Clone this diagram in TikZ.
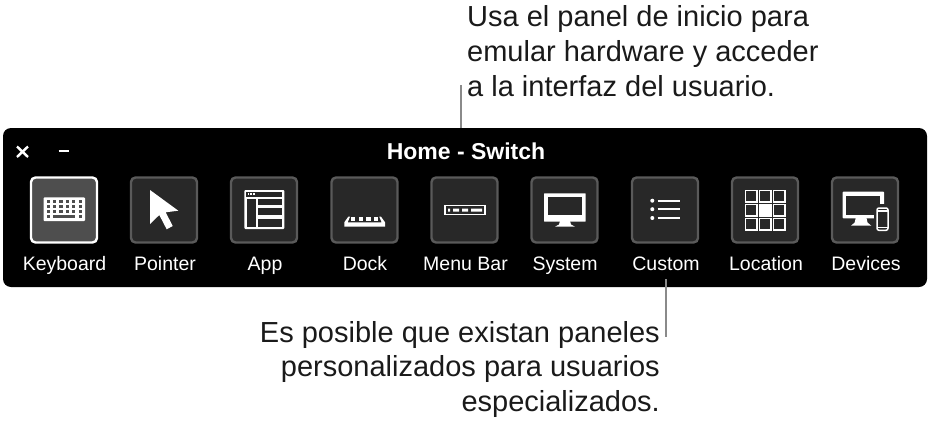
\documentclass[tikz,border=0pt]{standalone}
\usepackage{fontspec}
\setmainfont{Liberation Sans}
\definecolor{btnfill}{HTML}{282828}
\definecolor{btnedge}{HTML}{5A5A5A}
\definecolor{selfill}{HTML}{4E4E4E}
\definecolor{leader}{HTML}{8A8A8A}
\definecolor{ink}{HTML}{1A1A1A}
\tikzset{
  x=1pt,y=-1pt,
  panel/.style={fill=black,rounded corners=8pt,draw=none},
  iconbtn/.style={draw=btnedge,line width=2.4pt,fill=btnfill,rounded corners=4.5pt,minimum width=66pt,minimum height=65pt,inner sep=0pt},
  selbtn/.style={iconbtn,draw=white,fill=selfill},
  btnlabel/.style={text=white,font=\fontsize{19.5}{22}\selectfont,anchor=base,inner sep=0pt},
  callout/.style={text=ink,font=\fontsize{29}{37.5}\selectfont,inner sep=0pt,align=left},
  leaderline/.style={draw=leader,line width=2pt},
}
\begin{document}
\begin{tikzpicture}
\useasboundingbox (0,0) rectangle (931,423);
\fill[white] (0,0) rectangle (931,423);
\fill[panel] (3,128) rectangle (927,287);
\coordinate (topA) at (461,85);
\coordinate (topB) at (461,128);
\coordinate (botA) at (666,279);
\coordinate (botB) at (666,337);
\draw[leaderline] (topA) -- (topB);
\draw[leaderline] (botA) -- (botB);
% window controls
\draw[white,line width=2.4pt] (17,146.5) -- (28,157) (28,146.5) -- (17,157);
\draw[white,line width=2.2pt] (58.5,151) -- (69,151);
\node[text=white,font=\fontsize{23}{26}\selectfont\bfseries,anchor=base,inner sep=0pt] (title) at (466,159.5) {Home - Switch};
% buttons
\node[selbtn] (b1) at (64,210) {};
\node[iconbtn] (b2) at (164,210) {};
\node[iconbtn] (b3) at (264,210) {};
\node[iconbtn] (b4) at (364.5,210) {};
\node[iconbtn] (b5) at (464.5,210) {};
\node[iconbtn] (b6) at (564.5,210) {};
\node[iconbtn] (b7) at (665,210) {};
\node[iconbtn] (b8) at (765,210) {};
\node[iconbtn] (b9) at (865,210) {};
% labels
\node[btnlabel] (l1) at (64.5,270.5) {Keyboard};
\node[btnlabel] (l2) at (165,270.5) {Pointer};
\node[btnlabel] (l3) at (265,270.5) {App};
\node[btnlabel] (l4) at (365,270.5) {Dock};
\node[btnlabel] (l5) at (465.5,270.5) {Menu Bar};
\node[btnlabel] (l6) at (565,270.5) {System};
\node[btnlabel] (l7) at (666,270.5) {Custom};
\node[btnlabel] (l8) at (766,270.5) {Location};
\node[btnlabel] (l9) at (866,270.5) {Devices};
% keyboard icon
\fill[white,rounded corners=1pt] (43.5,197.3) rectangle (85,221);
\foreach \r in {0,1,2}{\foreach \c in {0,...,5}{
  \fill[selfill] ({46.5+\c*6.4},{200.3+\r*4.9}) rectangle ++(3.3,3);}}
\fill[selfill] (46.5,215) rectangle ++(3.3,2.6);
\fill[selfill] (78.5,215) rectangle ++(3.3,2.6);
\fill[selfill] (53.3,215.2) rectangle (74.7,217.6);
% pointer icon
\fill[white] (150,190) -- (178.3,210.7) -- (165.7,212.3) -- (172.7,226) -- (166.7,229.3) -- (159.3,215) -- (150,224) -- cycle;
% app icon
\fill[white,rounded corners=1pt] (244.3,190) rectangle (284.3,229);
\fill[btnfill] (246.3,192.3) rectangle (282.3,196.5);
\foreach \d in {0,1,2}{\fill[white] ({247.5+\d*2.9},193.4) rectangle ++(1.8,1.8);}
\fill[btnfill] (247,199) rectangle (255.5,226.5);
\fill[btnfill] (258.3,199) rectangle (281.7,205);
\fill[btnfill] (258.3,208.3) rectangle (281.7,215);
\fill[btnfill] (258.3,219) rectangle (281.7,226.5);
% dock icon
\fill[white] (344.3,226.7) -- (385,226.7) -- (385,222.3) -- (381,216.7) -- (379.3,216.7) -- (381.6,222.3) -- (347.7,222.3) -- (350,216.7) -- (348.3,216.7) -- (344.3,222.3) -- cycle;
\foreach \d in {0,1,2,3}{\fill[white] ({350.9+\d*7.75},216.7) rectangle ++(4.3,4.3);}
% menu bar icon
\draw[white,line width=1.5pt] (445,205.5) rectangle (485,214.5);
\fill[white] (448,208.5) rectangle (450,211.5)
 (453,208.5) rectangle (459,211.5) (462,208.5) rectangle (468,211.5) (471,208.5) rectangle (482,211.5);
% system icon
\fill[white,rounded corners=.6pt] (544,193.3) rectangle (585.7,221.7);
\fill[btnfill] (547.7,197) rectangle (582.3,215.3);
\fill[white] (560,221) -- (570,221) -- (571,224.5) -- (575,226.7) -- (555,226.7) -- (559,224.5) -- cycle;
% custom icon
\foreach \y in {200.7,209.2,218}{
  \fill[white] (652.3,\y) circle (2);
  \draw[white,line width=2pt] (657.5,\y) -- (680,\y);}
% location icon
\foreach \r in {0,1,2}{\foreach \c in {0,1,2}{
  \draw[white,line width=1.2pt] ({745.5+\c*14},{190.5+\r*14}) rectangle ++(11.5,11.5);}}
\fill[white] (759.5,204.5) rectangle ++(11.5,11.5);
% devices icon
\fill[white,rounded corners=.6pt] (842.7,191.7) rectangle (884,218.3);
\fill[btnfill] (846.3,195.7) rectangle (880.3,215);
\fill[white] (855.7,218) -- (866.5,218) -- (867.5,222.5) -- (871.3,225.7) -- (851,225.7) -- (854.7,222.5) -- cycle;
\fill[btnfill] (874,204) rectangle (891,233.5);
\draw[white,line width=1.5pt,rounded corners=2pt] (877,208) rectangle (888,230.3);
\draw[white,line width=1.1pt] (877,211) -- (888,211) (877,227.3) -- (888,227.3);
% callouts
\node[callout,anchor=base west] (ct1) at (467,27) {Usa el panel de inicio para};
\node[callout,anchor=base west] (ct2) at (467,61.5) {emular hardware y acceder};
\node[callout,anchor=base west] (ct3) at (467,96) {a la interfaz del usuario.};
\node[callout,anchor=base east] (cb1) at (660,342.5) {Es posible que existan paneles};
\node[callout,anchor=base east] (cb2) at (660,376.5) {personalizados para usuarios};
\node[callout,anchor=base east] (cb3) at (660,411) {especializados.};
\end{tikzpicture}
\end{document}
